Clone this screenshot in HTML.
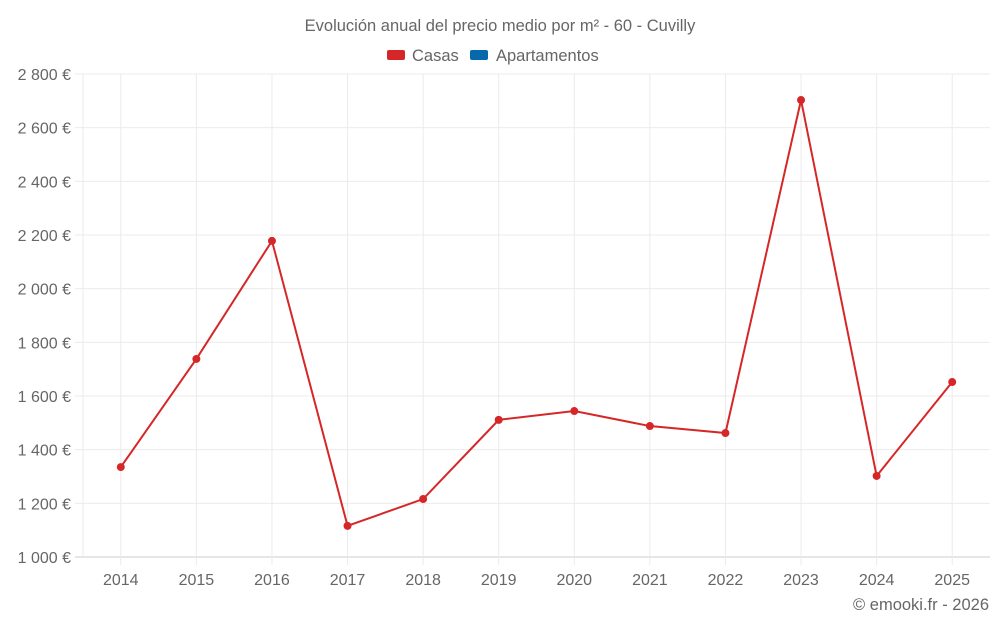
<!DOCTYPE html>
<html><head><meta charset="utf-8">
<style>
html,body{margin:0;padding:0;background:#fff;}
svg text{font-family:"Liberation Sans",sans-serif;}
</style></head>
<body>
<svg id="chart" width="1000" height="625" viewBox="0 0 1000 625" xmlns="http://www.w3.org/2000/svg">
  <text x="500" y="31" text-anchor="middle" font-size="16.5" fill="#666">Evolución anual del precio medio por m² - 60 - Cuvilly</text>
  <g>
    <g>
      <rect x="387" y="50" width="18" height="10" rx="2" fill="#d62728"/>
      <text x="412" y="61" font-size="16.5" fill="#666">Casas</text>
    </g>
    <g>
      <rect x="470" y="50" width="18" height="10" rx="2" fill="#0868ac"/>
      <text x="496" y="61" font-size="16.5" fill="#666">Apartamentos</text>
    </g>
  </g>
  <g id="grid"></g>
  <g id="yaxis"></g>
  <g id="xaxis"></g>
  <g id="series"></g>
  <text x="989" y="610" text-anchor="end" font-size="16.5" fill="#666">© emooki.fr - 2026</text>
</svg>
<script>
const years = ["2014","2015","2016","2017","2018","2019","2020","2021","2022","2023","2024","2025"];
const casas = [1335,1738,2178,1116,1216,1511,1544,1488,1462,2703,1302,1652];
const yTicks = [1000,1200,1400,1600,1800,2000,2200,2400,2600,2800];
const yTickLabels = ["1 000 €","1 200 €","1 400 €","1 600 €","1 800 €","2 000 €","2 200 €","2 400 €","2 600 €","2 800 €"];

const NS="http://www.w3.org/2000/svg";
const L=83,R=990,T=74,B=557,yMin=1000,yMax=2800;
const band=(R-L)/years.length;
function xs(i){return L+band*(i+0.5);}
function ys(v){return B-(v-yMin)/(yMax-yMin)*(B-T);}
function mk(tag,attrs,parent){const e=document.createElementNS(NS,tag);for(const k in attrs)e.setAttribute(k,attrs[k]);parent.appendChild(e);return e;}
const grid=document.getElementById('grid'),ya=document.getElementById('yaxis'),xa=document.getElementById('xaxis'),se=document.getElementById('series');

yTicks.forEach((v,i)=>{
  const y=ys(v);
  const gl=mk('line',{x1:L-8,x2:R,y1:y,y2:y,stroke:i===0?'#ccc':'#ebebeb','stroke-width':1},grid);
  
  
  const t=mk('text',{x:71,y:y+6,'text-anchor':'end','font-size':16,fill:'#666'},ya);
  t.textContent=yTickLabels[i];
  
  
});
mk('line',{x1:L,x2:L,y1:T,y2:B,stroke:'#ebebeb'},grid);
years.forEach((yr,i)=>{
  const x=xs(i);
  const gl=mk('line',{x1:x,x2:x,y1:T,y2:B+8,stroke:'#ebebeb','stroke-width':1},grid);
  
  
  const t=mk('text',{x:x,y:585,'text-anchor':'middle','font-size':16,fill:'#666'},xa);
  t.textContent=yr;
  
  
});
const pts=casas.map((v,i)=>xs(i)+','+ys(v)).join(' ');
const pl=mk('polyline',{points:pts,fill:'none',stroke:'#d62728','stroke-width':2},se);


casas.forEach((v,i)=>{
  const c=mk('circle',{cx:xs(i),cy:ys(v),r:4,fill:'#d62728'},se);
  
  
});
</script>
</body></html>
